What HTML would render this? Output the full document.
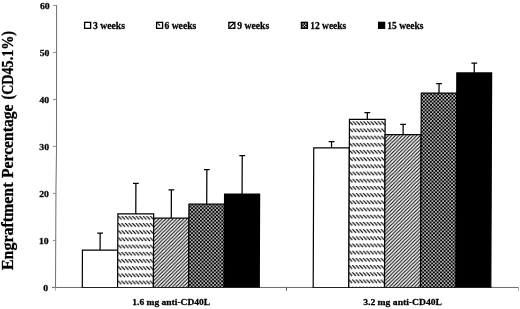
<!DOCTYPE html>
<html><head><meta charset="utf-8"><title>Engraftment chart</title>
<style>
html,body{margin:0;padding:0;background:#fff;}
body{width:520px;height:309px;overflow:hidden;}
svg{display:block;filter:grayscale(1);}
text{font-family:"Liberation Serif","Times New Roman",serif;font-weight:bold;fill:#000;stroke:#000;stroke-width:0.3px;stroke-linejoin:round;}
text.s{stroke-width:0.26px;}
</style></head><body>
<svg width="520" height="309" viewBox="0 0 520 309">
<defs>
<pattern id="p6" width="3.56" height="7.19" patternUnits="userSpaceOnUse" x="117.7" y="215.9">
<rect width="3.56" height="7.19" fill="#fff"/>
<path d="M0,0 L3.56,3.56 M-3.56,0 L0,3.56 M3.56,0 L7.12,3.56" stroke="#000" stroke-width="1.1" fill="none"/>
</pattern>
<pattern id="p6b" width="3.56" height="7.19" patternUnits="userSpaceOnUse" x="348.55" y="121.3">
<rect width="3.56" height="7.19" fill="#fff"/>
<path d="M0,0 L3.56,3.56 M-3.56,0 L0,3.56 M3.56,0 L7.12,3.56" stroke="#000" stroke-width="1.1" fill="none"/>
</pattern>
<pattern id="p9" width="3.56" height="3.56" patternUnits="userSpaceOnUse">
<rect width="3.56" height="3.56" fill="#fff"/>
<path d="M-1,1 L1,-1 M-1,4.56 L4.56,-1 M2.56,4.56 L4.56,2.56" stroke="#000" stroke-width="1.08" fill="none"/>
</pattern>
<pattern id="p12" width="3.56" height="3.56" patternUnits="userSpaceOnUse" x="0.4" y="0.9">
<rect width="3.56" height="3.56" fill="#000"/>
<circle cx="0.89" cy="0.89" r="0.82" fill="#fff"/>
<circle cx="2.67" cy="2.67" r="0.82" fill="#fff"/>
</pattern>
</defs>
<rect width="520" height="309" fill="#fff"/>

<g fill="none">
<path d="M56.6,5 L56.5,150 L55.95,190 L55.5,287.95" stroke="#747474" stroke-width="1.05"/>
<path d="M52,287.45 H518.7" stroke="#6a6a6a" stroke-width="1"/>
<path d="M52.9,240.44 H56.2" stroke="#8c8c8c" stroke-width="1"/>
<path d="M52.9,193.43 H56.2" stroke="#8c8c8c" stroke-width="1"/>
<path d="M52.9,146.42 H56.2" stroke="#8c8c8c" stroke-width="1"/>
<path d="M52.9,99.41 H56.2" stroke="#8c8c8c" stroke-width="1"/>
<path d="M52.9,52.40 H56.2" stroke="#8c8c8c" stroke-width="1"/>
<path d="M52.9,5.39 H56.2" stroke="#8c8c8c" stroke-width="1"/>
<path d="M286.5,287.45 V290.8" stroke="#555" stroke-width="1"/>
<path d="M55.5,287.45 V290.6 M518.5,287.45 V291" stroke="#aaa" stroke-width="1"/>
</g>
<text class="s" transform="translate(1.121,0) skewX(-0.2235)" x="43.15" y="290.75" font-size="9.2" textLength="4.85" lengthAdjust="spacingAndGlyphs">0</text>
<text class="s" transform="translate(1.121,0) skewX(-0.2235)" x="38.80" y="243.74" font-size="9.2" textLength="9.7" lengthAdjust="spacingAndGlyphs">10</text>
<text class="s" transform="translate(1.121,0) skewX(-0.2235)" x="38.80" y="196.73" font-size="9.2" textLength="9.7" lengthAdjust="spacingAndGlyphs">20</text>
<text class="s" transform="translate(1.121,0) skewX(-0.2235)" x="38.80" y="149.72" font-size="9.2" textLength="9.7" lengthAdjust="spacingAndGlyphs">30</text>
<text class="s" transform="translate(1.121,0) skewX(-0.2235)" x="38.80" y="102.71" font-size="9.2" textLength="9.7" lengthAdjust="spacingAndGlyphs">40</text>
<text class="s" transform="translate(1.121,0) skewX(-0.2235)" x="38.80" y="55.70" font-size="9.2" textLength="9.7" lengthAdjust="spacingAndGlyphs">50</text>
<text class="s" transform="translate(1.121,0) skewX(-0.2235)" x="38.80" y="8.69" font-size="9.2" textLength="9.7" lengthAdjust="spacingAndGlyphs">60</text>
<g transform="translate(1.121,0) skewX(-0.2235)">
<path d="M99.95,250.2 V233.0 M97.05,233.0 H102.85" stroke="#000" stroke-width="1.25" fill="none"/>
<rect x="82.3" y="250.2" width="35.30" height="37.25" fill="#fff"/>
<path d="M82.3,287.95 V250.2 H117.6 V287.95" fill="none" stroke="#000" stroke-width="1.2"/>
<path d="M81.7,287.45 H118.19999999999999" fill="none" stroke="#222" stroke-width="1"/>
<path d="M135.50,213.9 V183.3 M132.60,183.3 H138.40" stroke="#000" stroke-width="1.25" fill="none"/>
<rect x="117.6" y="213.9" width="35.80" height="73.55" fill="url(#p6)"/>
<path d="M117.6,287.95 V213.9 H153.4 V287.95" fill="none" stroke="#000" stroke-width="1.2"/>
<path d="M117.0,287.45 H154.0" fill="none" stroke="#222" stroke-width="1"/>
<path d="M171.00,218.2 V189.9 M168.10,189.9 H173.90" stroke="#000" stroke-width="1.25" fill="none"/>
<rect x="153.4" y="218.2" width="35.20" height="69.25" fill="url(#p9)"/>
<path d="M153.4,287.95 V218.2 H188.6 V287.95" fill="none" stroke="#000" stroke-width="1.2"/>
<path d="M152.8,287.45 H189.2" fill="none" stroke="#222" stroke-width="1"/>
<path d="M206.40,204.2 V169.7 M203.50,169.7 H209.30" stroke="#000" stroke-width="1.25" fill="none"/>
<rect x="188.6" y="204.2" width="35.60" height="83.25" fill="url(#p12)"/>
<path d="M188.6,287.95 V204.2 H224.2 V287.95" fill="none" stroke="#000" stroke-width="1.2"/>
<path d="M188.0,287.45 H224.79999999999998" fill="none" stroke="#222" stroke-width="1"/>
<path d="M241.72,194.0 V155.6 M238.82,155.6 H244.62" stroke="#000" stroke-width="1.25" fill="none"/>
<rect x="224.2" y="194.0" width="35.05" height="93.45" fill="#000"/>
<path d="M224.2,287.95 V194.0 H259.25 V287.95" fill="none" stroke="#000" stroke-width="1.2"/>
<path d="M223.6,287.45 H259.85" fill="none" stroke="#222" stroke-width="1"/>
<path d="M331.00,147.8 V141.7 M328.10,141.7 H333.90" stroke="#000" stroke-width="1.25" fill="none"/>
<rect x="313.2" y="147.8" width="35.60" height="139.65" fill="#fff"/>
<path d="M313.2,287.95 V147.8 H348.8 V287.95" fill="none" stroke="#000" stroke-width="1.2"/>
<path d="M312.59999999999997,287.45 H349.40000000000003" fill="none" stroke="#222" stroke-width="1"/>
<path d="M366.65,119.4 V112.5 M363.75,112.5 H369.55" stroke="#000" stroke-width="1.25" fill="none"/>
<rect x="348.8" y="119.4" width="35.70" height="168.05" fill="url(#p6b)"/>
<path d="M348.8,287.95 V119.4 H384.5 V287.95" fill="none" stroke="#000" stroke-width="1.2"/>
<path d="M348.2,287.45 H385.1" fill="none" stroke="#222" stroke-width="1"/>
<path d="M402.50,134.6 V124.3 M399.60,124.3 H405.40" stroke="#000" stroke-width="1.25" fill="none"/>
<rect x="384.5" y="134.6" width="36.00" height="152.85" fill="url(#p9)"/>
<path d="M384.5,287.95 V134.6 H420.5 V287.95" fill="none" stroke="#000" stroke-width="1.2"/>
<path d="M383.9,287.45 H421.1" fill="none" stroke="#222" stroke-width="1"/>
<path d="M438.25,93.1 V83.7 M435.35,83.7 H441.15" stroke="#000" stroke-width="1.25" fill="none"/>
<rect x="420.5" y="93.1" width="35.50" height="194.35" fill="url(#p12)"/>
<path d="M420.5,287.95 V93.1 H456.0 V287.95" fill="none" stroke="#000" stroke-width="1.2"/>
<path d="M419.9,287.45 H456.6" fill="none" stroke="#222" stroke-width="1"/>
<path d="M473.40,72.9 V63.2 M470.50,63.2 H476.30" stroke="#000" stroke-width="1.25" fill="none"/>
<rect x="456.0" y="72.9" width="34.80" height="214.55" fill="#000"/>
<path d="M456.0,287.95 V72.9 H490.8 V287.95" fill="none" stroke="#000" stroke-width="1.2"/>
<path d="M455.4,287.45 H491.40000000000003" fill="none" stroke="#222" stroke-width="1"/>
</g>
<rect x="83.95" y="21.7" width="7.3" height="7.25" fill="#000"/>
<rect x="85.25" y="23.00" width="4.70" height="4.70" fill="#fff"/>
<text class="s" x="93.0" y="28.75" font-size="9.5" textLength="31.9" lengthAdjust="spacingAndGlyphs">3 weeks</text>
<rect x="155.95" y="21.7" width="7.3" height="7.25" fill="#000"/>
<rect x="157.25" y="23.00" width="4.70" height="4.70" fill="#fff"/>
<path d="M157.65,23.30 L160.15,25.60" stroke="#000" stroke-width="1.1"/>
<text class="s" x="164.4" y="28.75" font-size="9.5" textLength="31.9" lengthAdjust="spacingAndGlyphs">6 weeks</text>
<rect x="228.2" y="21.7" width="7.3" height="7.25" fill="#000"/>
<rect x="229.50" y="23.00" width="4.70" height="4.70" fill="#fff"/>
<path d="M229.50,27.70 L234.20,23.00" stroke="#000" stroke-width="1.2"/>
<path d="M229.50,23.00 h1.3 l-1.3,1.3 z M234.20,27.70 h-1.3 l1.3,-1.3 z" fill="#000"/>
<text class="s" x="237.3" y="28.75" font-size="9.5" textLength="31.9" lengthAdjust="spacingAndGlyphs">9 weeks</text>
<rect x="300.75" y="21.7" width="7.3" height="7.25" fill="#000"/>
<circle cx="303.05" cy="24.00" r="0.72" fill="#fff"/>
<circle cx="305.75" cy="24.00" r="0.72" fill="#fff"/>
<circle cx="304.40" cy="25.35" r="0.72" fill="#fff"/>
<circle cx="303.05" cy="26.70" r="0.72" fill="#fff"/>
<circle cx="305.75" cy="26.70" r="0.72" fill="#fff"/>
<text class="s" x="310.2" y="28.75" font-size="9.5" textLength="36.1" lengthAdjust="spacingAndGlyphs">12 weeks</text>
<rect x="377.95" y="21.7" width="7.3" height="7.25" fill="#000"/>
<text class="s" x="387.3" y="28.75" font-size="9.5" textLength="36.1" lengthAdjust="spacingAndGlyphs">15 weeks</text>
<text class="s" x="132.3" y="304.6" font-size="9.25" textLength="77.8" lengthAdjust="spacingAndGlyphs">1.6 mg anti-CD40L</text>
<text class="s" x="363.2" y="304.6" font-size="9.25" textLength="78.8" lengthAdjust="spacingAndGlyphs">3.2 mg anti-CD40L</text>
<g font-size="15.7"><text transform="translate(13.4,270) rotate(-90)" textLength="87.5" lengthAdjust="spacingAndGlyphs">Engraftment</text><text transform="translate(13.4,178) rotate(-90)" textLength="73.5" lengthAdjust="spacingAndGlyphs">Percentage</text><text transform="translate(13.4,99.5) rotate(-90)" textLength="68.5" lengthAdjust="spacingAndGlyphs">(CD45.1%)</text></g>
</svg></body></html>
